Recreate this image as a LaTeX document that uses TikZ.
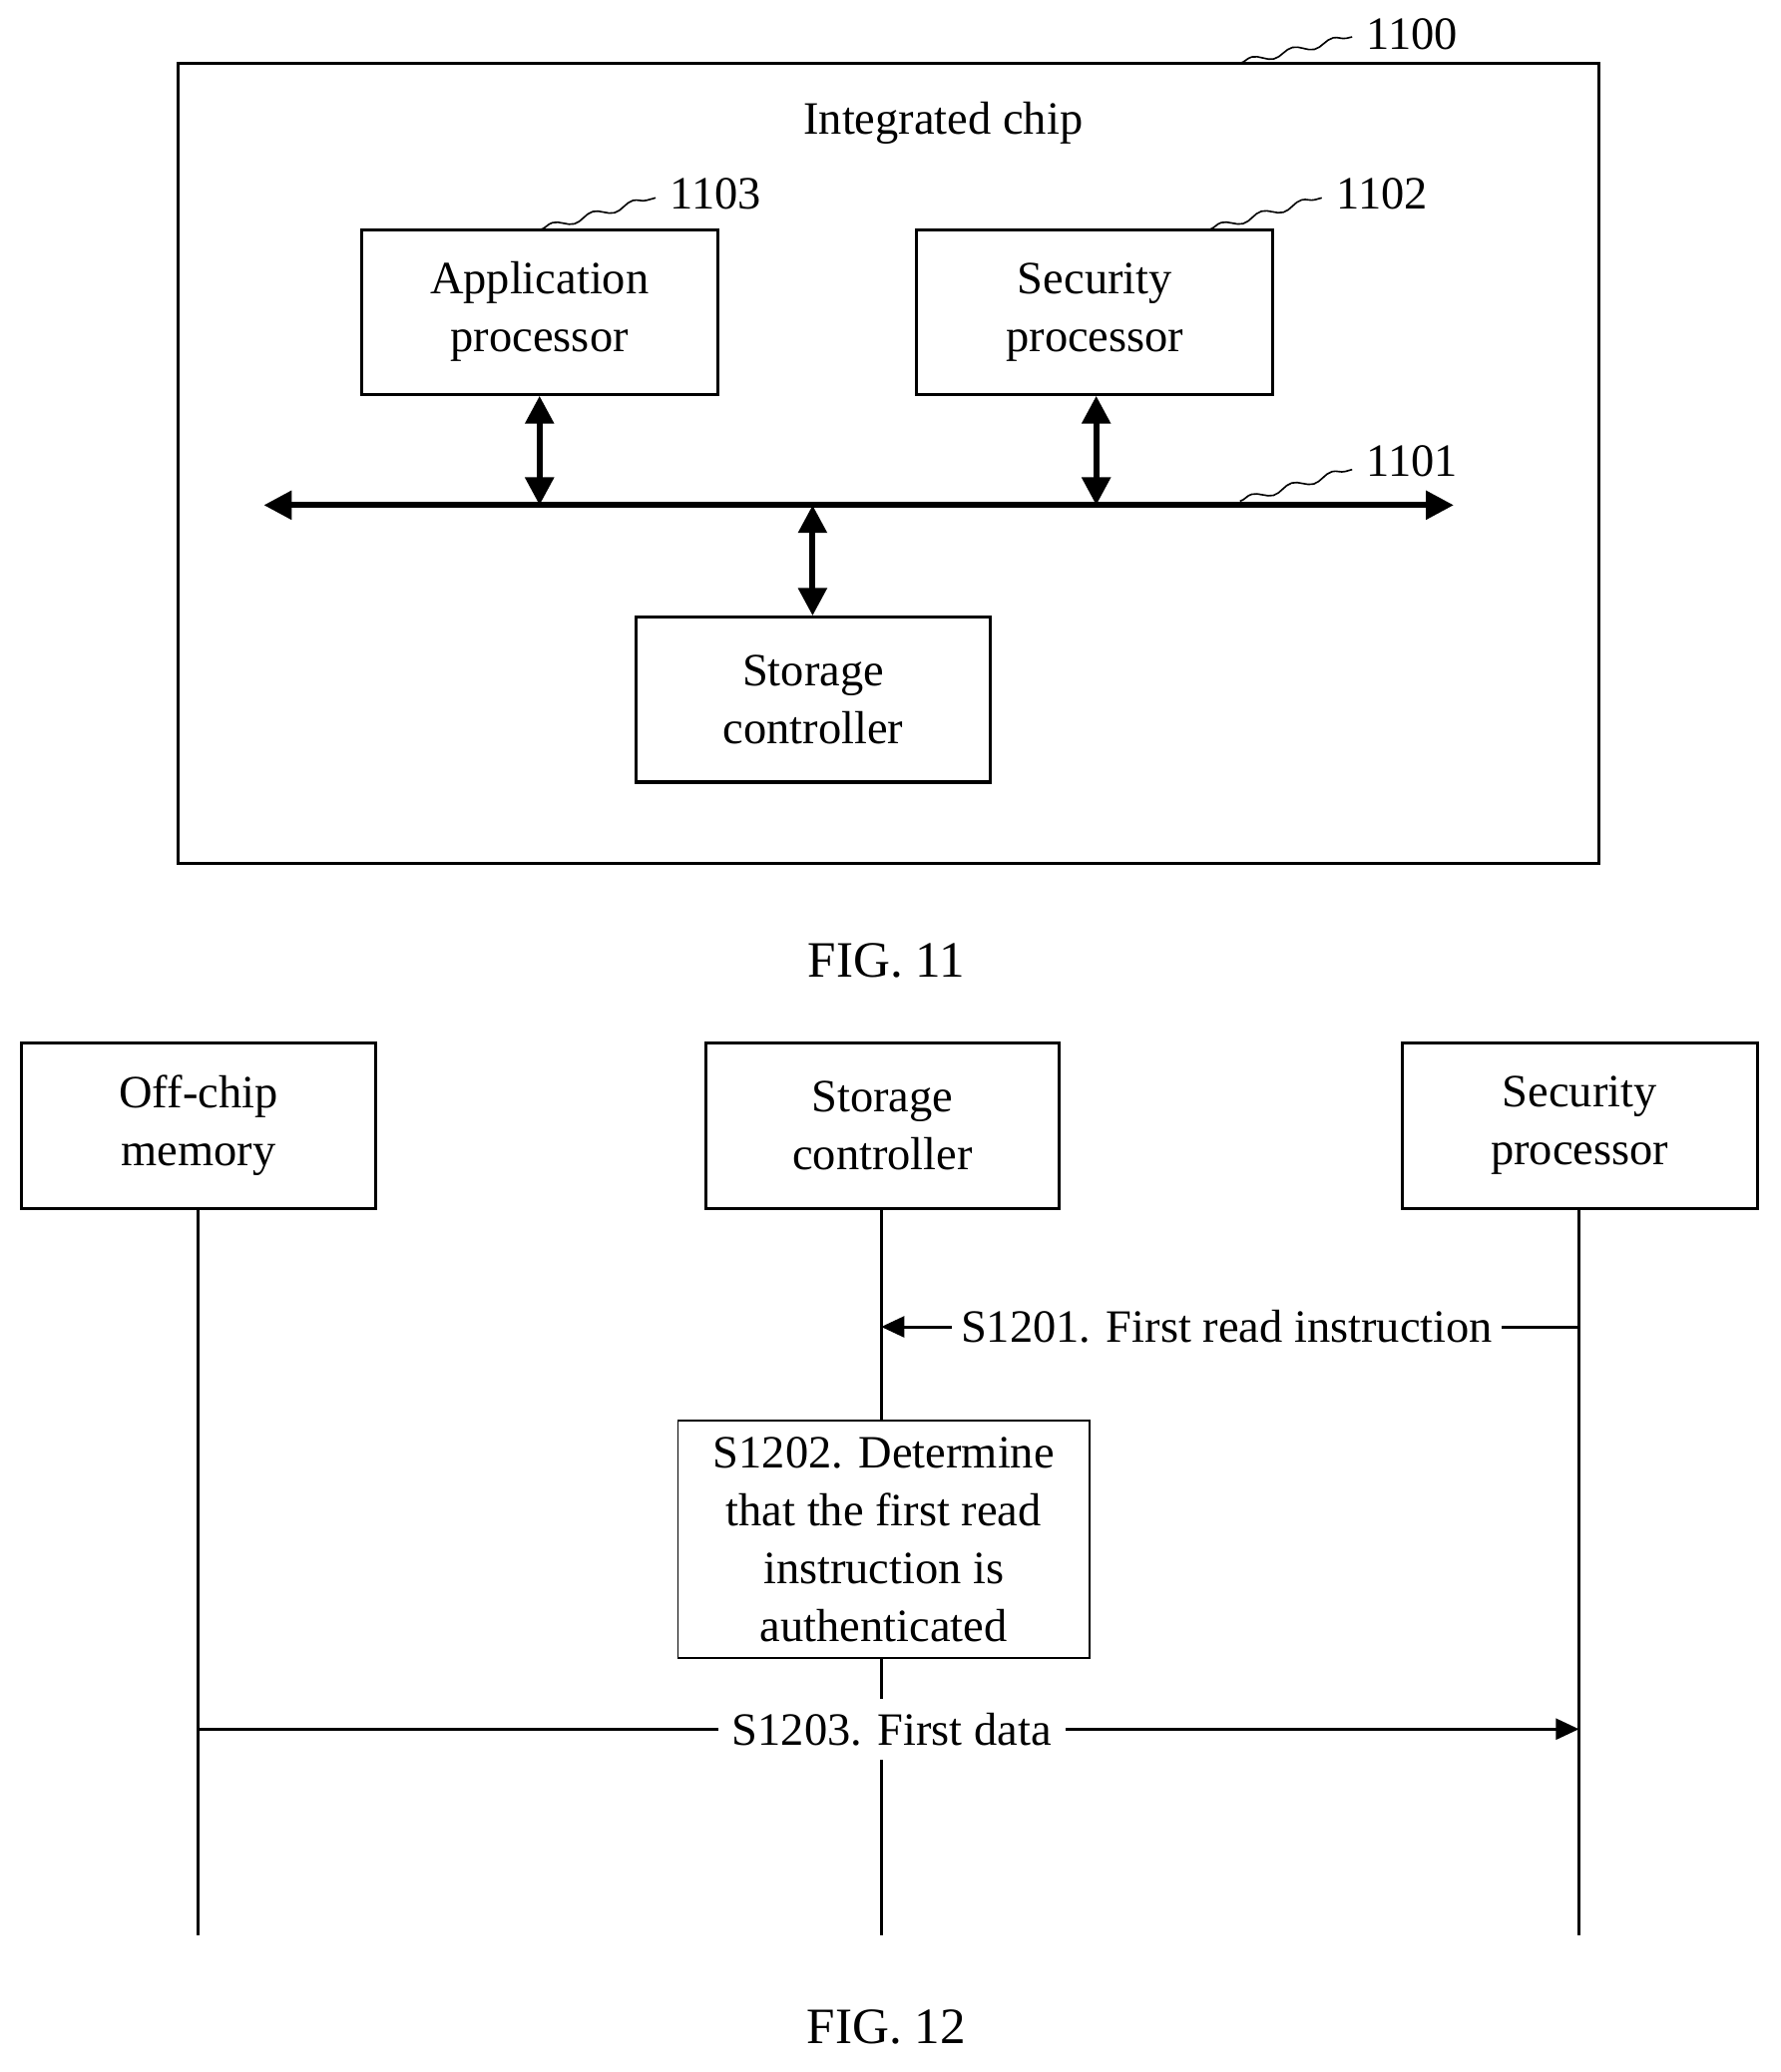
\documentclass[tikz,border=0pt]{standalone}
\usepackage{fontspec}
\setmainfont{Liberation Serif}
\usetikzlibrary{arrows.meta,decorations.pathmorphing}
\begin{document}
\begin{tikzpicture}[x=0.02cm,y=-0.02cm,
  every node/.style={font=\fontsize{20}{25}\selectfont},
  box/.style={draw,line width=1.3pt,align=center,inner sep=0},
  thinbox/.style={draw,line width=0.7pt,align=center,inner sep=0},
  sq/.style={line width=0.7pt,decorate,decoration={snake,amplitude=1.5pt,segment length=18pt}},
  bus/.style={line width=2.6pt,{Triangle[length=12pt,width=12pt]}-{Triangle[length=12pt,width=12pt]}},
  life/.style={line width=1.3pt},
  msg/.style={line width=1.3pt,-{Triangle[length=10pt,width=9pt]}}]
\useasboundingbox (0,0) rectangle (1350,1571);
% FIG 11
\node[box,minimum width=1077*0.02cm,minimum height=607*0.02cm] (chip) at (673.5,351.5) {};
\node (chipt) at (715,93) {Integrated chip};
\node[box,minimum width=270*0.02cm,minimum height=125*0.02cm] (ap) at (409,236.5) {Application\\processor};
\node[box,minimum width=270*0.02cm,minimum height=125*0.02cm] (sp) at (830,236.5) {Security\\processor};
\node[box,minimum width=269*0.02cm,minimum height=125*0.02cm] (sc) at (616.5,530.5) {Storage\\controller};
\coordinate (bl) at (200,383); \coordinate (br) at (1102,383);
\draw[bus] (bl) -- (br);
\coordinate (b1) at (409,383); \coordinate (b2) at (831,383); \coordinate (b3) at (616,383);
\draw[bus] (ap.south -| b1) -- (b1);
\draw[bus] (sp.south -| b2) -- (b2);
\draw[bus] (b3) -- (sc.north -| b3);
\coordinate (q0a) at (940,48); \coordinate (q0b) at (1025,28);
\draw[sq] (q0a) -- (q0b); \node[anchor=west] (l1100) at (1030,26) {1100};
\coordinate (q1a) at (410,174); \coordinate (q1b) at (497,150);
\draw[sq] (q1a) -- (q1b); \node[anchor=west] (l1103) at (502,147) {1103};
\coordinate (q2a) at (917,174); \coordinate (q2b) at (1002,150);
\draw[sq] (q2a) -- (q2b); \node[anchor=west] (l1102) at (1007,147) {1102};
\coordinate (q3a) at (940,380); \coordinate (q3b) at (1025,356);
\draw[sq] (q3a) -- (q3b); \node[anchor=west] (l1101) at (1030,350) {1101};
\node (f11) at (672,728) {\fontsize{22}{26}\selectfont FIG. 11};
% FIG 12
\node[box,minimum width=269*0.02cm,minimum height=125*0.02cm] (om) at (150.5,853.5) {Off-chip\\memory};
\node[box,minimum width=268*0.02cm,minimum height=125*0.02cm] (sc2) at (669,853.5) {Storage\\controller};
\node[box,minimum width=269*0.02cm,minimum height=125*0.02cm] (sp2) at (1197.5,853.5) {Security\\processor};
\coordinate (e1) at (150,1467); \coordinate (e2) at (668,1467); \coordinate (e3) at (1197,1467);
\draw[life] (om.south -| e1) -- (e1);
\draw[life] (sc2.south -| e2) -- (e2);
\draw[life] (sp2.south -| e3) -- (e3);
\coordinate (m1r) at (1197,1006); \coordinate (m1l) at (668,1006);
\node[fill=white,inner sep=4pt] (t1) at (930,1006) {S1201. First read instruction};
\draw[msg] (m1r) -- (m1l);
\node[fill=white,inner sep=4pt] at (930,1006) {S1201. First read instruction};
\node[thinbox,fill=white,minimum width=312*0.02cm,minimum height=180*0.02cm] (det) at (670,1167) {S1202. Determine\\that the first read\\instruction is\\authenticated};
\coordinate (m3l) at (150,1311); \coordinate (m3r) at (1197,1311);
\draw[msg] (m3l) -- (m3r);
\node[fill=white,inner sep=6pt] (t3) at (676,1311) {S1203. First data};
\node (f12) at (672,1537) {\fontsize{22}{26}\selectfont FIG. 12};
\end{tikzpicture}
\end{document}
